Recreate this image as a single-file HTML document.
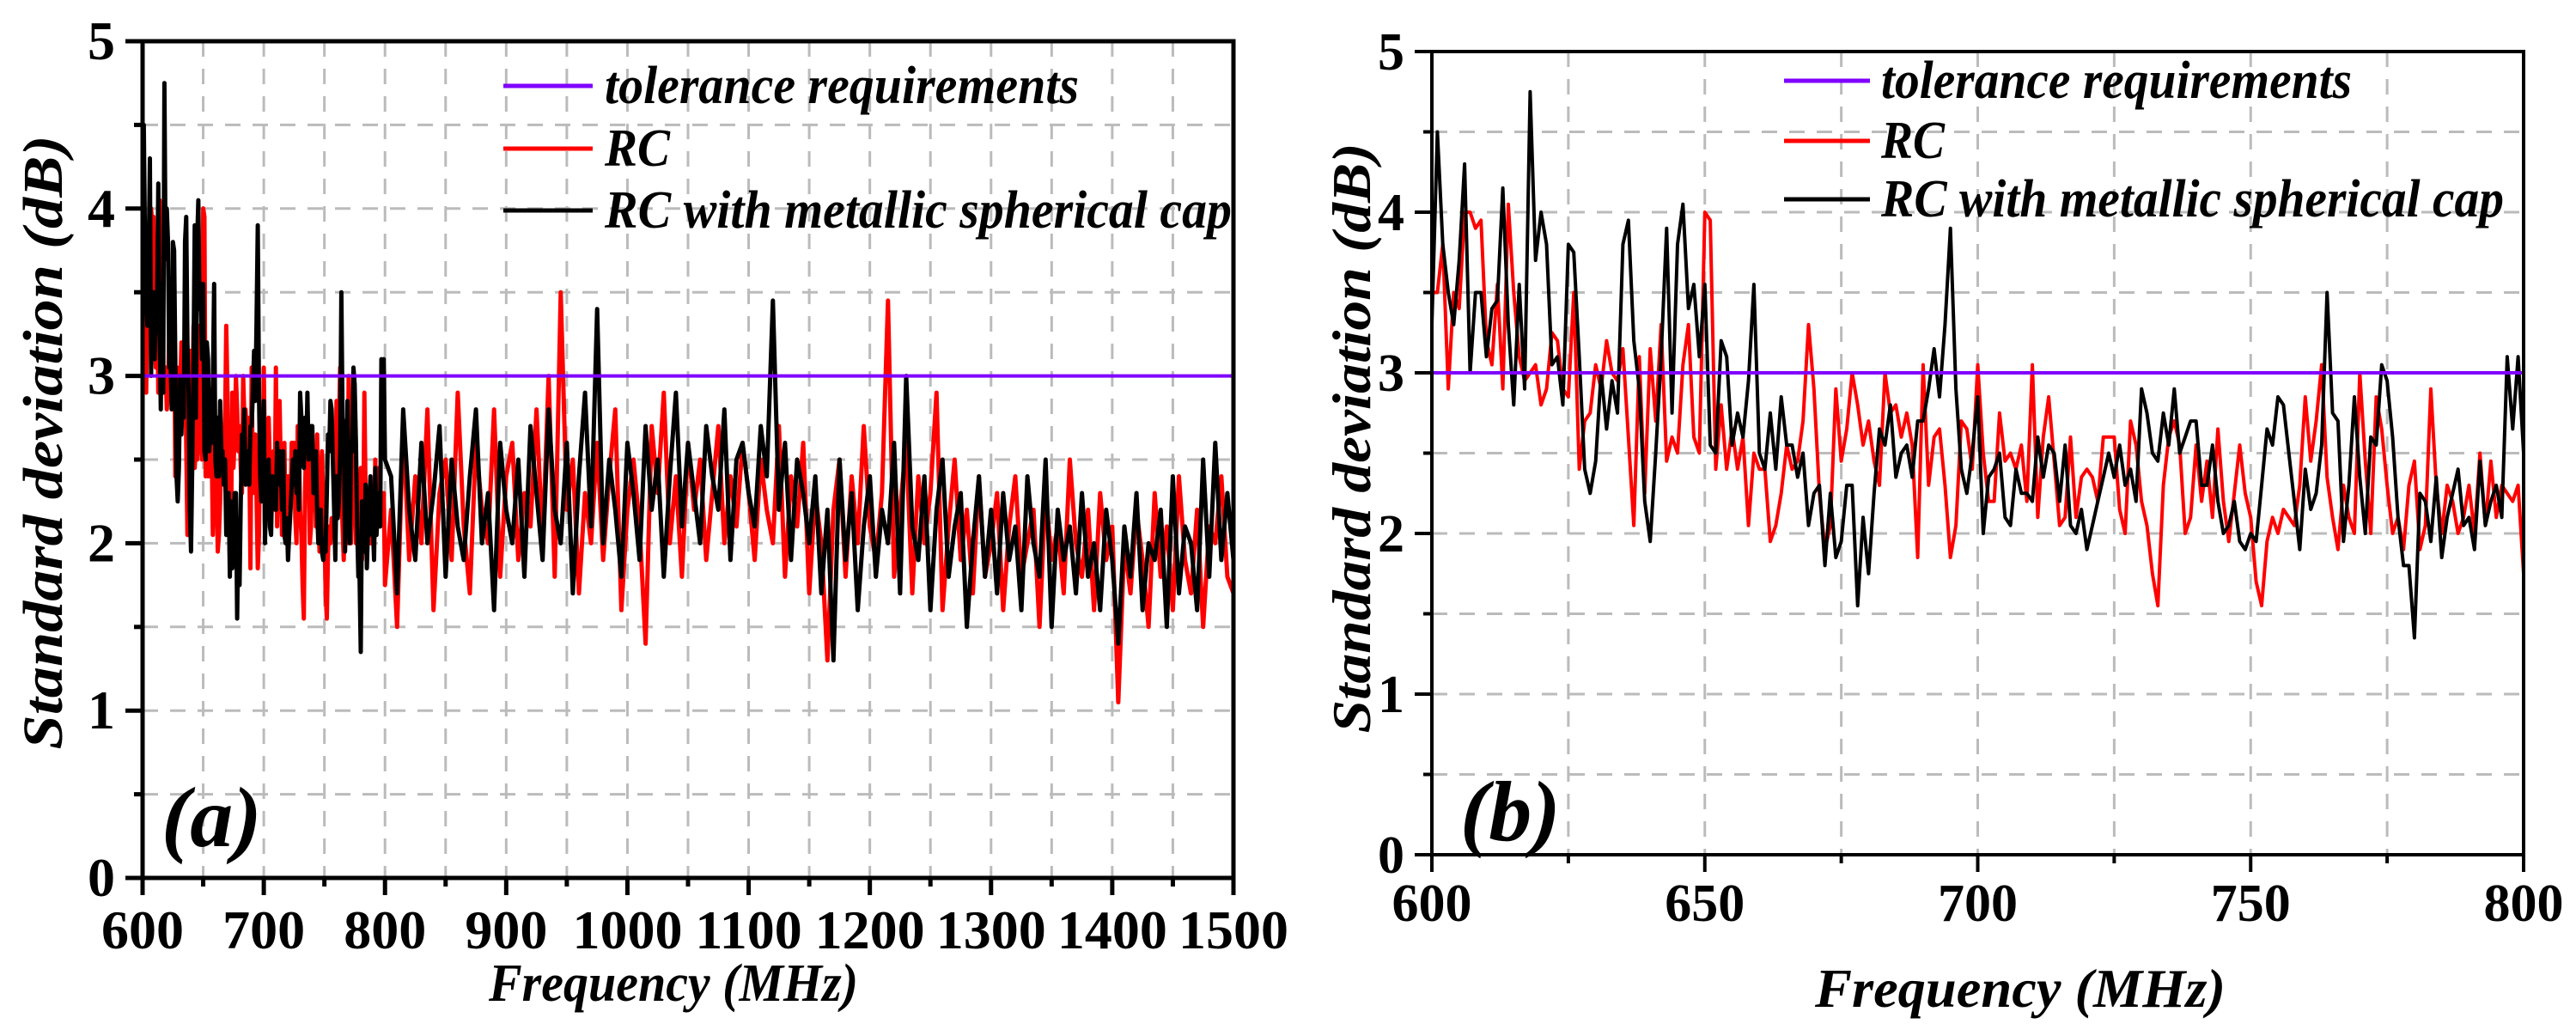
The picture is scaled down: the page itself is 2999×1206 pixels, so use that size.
<!DOCTYPE html>
<html><head><meta charset="utf-8"><style>
html,body{margin:0;padding:0;background:#fff;}
svg{display:block;font-family:"Liberation Serif",serif;}
</style></head><body>
<svg id="chart" width="2999" height="1206" viewBox="0 0 2999 1206" xmlns="http://www.w3.org/2000/svg"></svg>
<script>
// ---- data ----
const freqStartB = 600;
const blackB = [3.3,4.5,3.8,3.5,3.3,3.7,4.3,3.0,3.5,3.5,3.1,3.4,3.45,4.15,3.3,2.8,3.55,2.9,4.75,3.7,4.0,3.8,3.05,3.1,2.8,3.8,3.75,3.1,2.4,2.25,2.45,3.0,2.65,2.95,2.75,3.8,3.95,3.2,2.9,2.2,1.95,2.5,3.1,3.9,2.75,3.8,4.05,3.4,3.55,3.1,3.55,2.55,2.5,3.2,3.1,2.55,2.75,2.6,2.95,3.55,2.5,2.4,2.75,2.4,2.85,2.55,2.55,2.35,2.5,2.05,2.25,2.3,1.8,2.25,1.85,1.95,2.3,2.3,1.55,2.1,1.75,2.25,2.65,2.55,2.8,2.35,2.5,2.55,2.35,2.7,2.7,2.9,3.15,2.85,3.3,3.9,2.9,2.4,2.25,2.5,2.85,2.0,2.35,2.4,2.5,2.1,2.05,2.4,2.25,2.25,2.2,2.6,2.35,2.55,2.5,2.2,2.55,2.05,2.0,2.15,1.9,2.05,2.2,2.35,2.5,2.35,2.55,2.3,2.4,2.2,2.9,2.75,2.5,2.45,2.75,2.55,2.9,2.5,2.6,2.7,2.7,2.3,2.3,2.55,2.2,2.0,2.05,2.2,1.95,1.9,2.0,1.95,2.3,2.65,2.55,2.85,2.8,2.5,2.2,1.9,2.4,2.15,2.25,2.55,3.5,2.75,2.7,1.95,2.3,2.85,2.35,2.0,2.6,2.55,3.05,2.95,2.6,2.1,1.8,1.8,1.35,2.25,2.2,1.95,2.35,1.85,2.1,2.25,2.4,2.05,2.1,1.9,2.45,2.05,2.2,2.3,2.1,3.1,2.65,3.1,2.5];
const redB = [3.5,3.5,3.8,2.9,3.5,3.4,4.0,4.0,3.9,3.95,3.2,3.05,3.55,2.9,4.05,3.5,3.1,2.95,3.0,3.05,2.8,2.9,3.25,3.2,2.9,2.85,3.5,2.4,2.7,2.75,3.05,2.9,3.2,3.0,2.95,3.15,2.6,2.05,3.1,2.25,3.15,2.7,3.3,2.45,2.6,2.5,3.05,3.3,2.6,2.5,4.0,3.95,2.4,2.8,2.4,2.65,2.4,2.6,2.05,2.5,2.4,2.4,1.95,2.05,2.25,2.55,2.4,2.45,2.7,3.3,2.9,2.25,1.9,2.05,2.9,2.45,2.65,3.0,2.8,2.55,2.7,2.45,2.3,3.0,2.75,2.8,2.6,2.75,2.55,1.85,3.05,2.3,2.6,2.65,2.3,1.85,2.05,2.7,2.65,2.4,3.05,2.5,2.2,2.2,2.75,2.45,2.5,2.4,2.55,2.2,3.05,2.1,2.6,2.85,2.45,2.05,2.1,2.6,2.1,2.35,2.4,2.35,2.2,2.6,2.6,2.6,2.15,2.0,2.7,2.55,2.2,2.05,1.75,1.55,2.3,2.6,2.7,2.55,2.0,2.1,2.55,2.2,2.45,2.1,2.65,2.2,1.95,2.25,2.55,2.25,2.1,1.7,1.55,1.95,2.1,2.0,2.15,2.1,2.05,2.3,2.85,2.45,2.7,3.05,2.35,2.1,1.9,2.3,2.1,2.0,3.0,2.45,2.0,2.85,2.65,2.3,2.0,2.1,1.9,2.3,2.45,1.9,2.05,2.9,2.3,2.0,2.3,2.2,2.0,2.1,2.3,2.0,2.5,2.05,2.45,2.1,2.3,2.25,2.2,2.3,1.75];
const freqStartHigh = 805, stepHigh = 5;
const blackHigh = [2.4,1.7,2.8,2.2,1.9,2.6,2.0,2.3,2.7,1.8,2.5,2.1,1.9,2.4,2.8,2.0,2.3,1.6,2.6,2.2,
2.0,2.5,1.8,2.7,2.3,1.9,2.8,2.2,2.0,2.6,1.7,2.4,2.9,2.1,3.4,2.0,2.5,2.2,1.8,2.6,
2.3,1.9,2.7,2.2,2.5,1.8,2.4,2.9,2.1,2.6,2.3,2.0,2.7,2.4,2.2,2.8,1.9,2.5,2.6,2.3,
2.1,2.7,2.4,3.45,2.2,2.6,1.9,2.5,2.3,2.0,2.4,1.7,2.2,1.3,2.5,1.9,2.3,1.6,2.1,2.4,
1.8,2.2,2.0,2.6,1.7,3.0,2.1,1.9,2.4,1.6,2.2,2.5,1.8,2.1,2.3,1.5,2.0,2.4,1.8,2.2,
1.7,2.3,1.9,2.1,1.6,2.4,2.0,1.8,2.5,1.5,2.2,1.9,2.1,1.7,2.3,1.8,2.0,1.6,2.2,1.9,
1.4,2.1,1.8,2.3,1.6,2.0,1.9,2.2,1.5,2.4,1.7,2.1,2.0,1.6,2.5,1.8,2.6,1.9,2.3,1.9];
const redHigh = [2.2,1.5,2.7,1.9,2.4,2.0,2.8,1.6,2.3,2.5,1.9,2.9,2.1,1.7,2.6,2.2,2.0,2.8,1.8,2.4,
2.6,1.9,2.3,2.1,2.8,2.0,3.0,1.8,3.5,2.2,2.5,1.7,2.3,2.0,2.6,1.9,2.4,2.8,1.6,2.2,
2.5,2.1,1.4,2.7,2.3,2.9,2.0,2.4,1.8,2.6,2.2,2.5,1.9,2.3,2.7,2.0,2.4,2.1,2.6,2.3,
1.9,2.5,2.2,2.0,2.7,1.8,2.4,2.1,2.6,1.7,2.3,2.0,1.3,2.2,2.5,1.8,2.4,2.0,2.7,2.1,
1.9,2.3,3.45,1.8,2.2,2.6,1.7,2.4,2.0,2.3,2.9,1.6,2.1,2.5,1.9,2.2,1.7,2.4,1.8,2.0,
2.3,1.6,2.1,2.4,1.8,2.0,2.2,1.5,2.3,1.9,2.1,1.7,2.5,2.0,1.8,2.2,1.6,2.3,1.9,2.1,
1.05,2.0,1.7,2.2,1.9,1.5,2.3,1.8,2.1,1.6,2.4,1.9,1.7,2.2,1.5,2.1,2.0,2.4,1.8,1.7];
const tolerance = 3;
const yTicks = [0,1,2,3,4,5];
const xTicksA = [600,700,800,900,1000,1100,1200,1300,1400,1500];
const xTicksB = [600,650,700,750,800];
const legendLabels = ["tolerance requirements","RC","RC with metallic spherical cap"];

const NS="http://www.w3.org/2000/svg";
const svg=document.getElementById('chart');
function mk(tag,attrs,parent){const e=document.createElementNS(NS,tag);for(const k in attrs)e.setAttribute(k,attrs[k]);(parent||svg).appendChild(e);return e;}

function seriesFor(which){
  const b=[],r=[];
  blackB.forEach((v,i)=>b.push([freqStartB+i,v]));
  redB.forEach((v,i)=>r.push([freqStartB+i,v]));
  if(which==='a'){
    blackHigh.forEach((v,i)=>b.push([freqStartHigh+i*stepHigh,v]));
    redHigh.forEach((v,i)=>r.push([freqStartHigh+i*stepHigh,v]));
  }
  return {b,r};
}

function panel(p){
  const g=mk('g',{});
  
  
  const X=f=>p.x0+(f-p.fmin)/(p.fmax-p.fmin)*(p.x1-p.x0);
  const Y=v=>p.y0-(v/5)*(p.y0-p.y1);
  for(let f=p.fmin+p.minor; f<p.fmax-0.01; f+=p.minor){
    const l=mk('line',{x1:X(f),x2:X(f),y1:p.y1,y2:p.y0,stroke:'#bbb','stroke-width':3,'stroke-dasharray':'18,14'},g);
    
  }
  for(let v=0.5; v<5; v+=0.5){
    const l=mk('line',{x1:p.x0,x2:p.x1,y1:Y(v),y2:Y(v),stroke:'#bbb','stroke-width':3,'stroke-dasharray':'18,14'},g);
    
  }
  const s=seriesFor(p.id);
  const toPts=arr=>arr.filter(d=>d[0]<=p.fmax).map(d=>X(d[0]).toFixed(1)+','+Y(d[1]).toFixed(1)).join(' ');
  const red=mk('polyline',{points:toPts(s.r),fill:'none',stroke:'#ff0000','stroke-width':p.lw,'stroke-linejoin':'round'},g);
  
  const blk=mk('polyline',{points:toPts(s.b),fill:'none',stroke:'#000','stroke-width':p.lw,'stroke-linejoin':'round'},g);
  
  const tol=mk('line',{x1:p.x0,x2:p.x1,y1:Y(tolerance),y2:Y(tolerance),stroke:'#8000ff','stroke-width':4},g);
  
  const fr=mk('rect',{x:p.x0,y:p.y1,width:p.x1-p.x0,height:p.y0-p.y1,fill:'none',stroke:'#000','stroke-width':p.aw},g);
  
  for(let f=p.fmin; f<=p.fmax+0.01; f+=p.minor){
    const major=p.xt.includes(f);
    mk('line',{x1:X(f),x2:X(f),y1:p.y0,y2:p.y0+(major?20:10),stroke:'#000','stroke-width':p.aw},g);
  }
  p.xt.forEach(f=>{
    const t=mk('text',{x:X(f),y:p.xlabY,'text-anchor':'middle','font-size':p.fs,'font-weight':'bold'},g);
    t.textContent=f;
  });
  for(let v=0; v<=5; v+=0.5){
    const major=yTicks.includes(v);
    mk('line',{x1:p.x0-(major?20:10),x2:p.x0,y1:Y(v),y2:Y(v),stroke:'#000','stroke-width':p.aw},g);
  }
  yTicks.forEach(v=>{
    const t=mk('text',{x:p.x0-p.ylabGap,y:Y(v)+21,'text-anchor':'end','font-size':p.fs,'font-weight':'bold'},g);
    t.textContent=v;
  });
  const xt=mk('text',{x:p.xtitleX,y:p.xtitleY,'text-anchor':'middle','font-size':p.xtfs,'font-weight':'bold','font-style':'italic',textLength:p.xtLen,lengthAdjust:'spacingAndGlyphs'},g);
  xt.textContent='Frequency (MHz)';
  const yt=mk('text',{x:0,y:0,transform:`translate(${p.ytitleX},${p.ytitleY}) rotate(-90)`,'text-anchor':'middle','font-size':p.ytfs,'font-weight':'bold','font-style':'italic',textLength:p.ytLen,lengthAdjust:'spacingAndGlyphs'},g);
  yt.textContent='Standard deviation (dB)';
  const pl=mk('text',{x:p.plX,y:p.plY,'font-size':100,'font-weight':'bold','font-style':'italic'},g);
  pl.textContent='('+p.id+')';
  const colors=['#8000ff','#ff0000','#000'];
  legendLabels.forEach((lab,i)=>{
    const ly=p.legY[i];
    const le=mk('g',{},g);
    
    mk('line',{x1:p.legX0,x2:p.legX1,y1:ly,y2:ly,stroke:colors[i],'stroke-width':5},le);
    const t=mk('text',{x:p.legTX,y:ly+20,'font-size':p.legFs,'font-weight':'bold','font-style':'italic',textLength:p.legLen[i],lengthAdjust:'spacingAndGlyphs'},le);
    t.textContent=lab;
  });
}

panel({id:'a',fmin:600,fmax:1500,minor:50,x0:166,x1:1436,y0:1022,y1:48,xt:xTicksA,lw:5,aw:5,fs:64,
  xlabY:1104,ylabGap:32,xtitleX:784,xtitleY:1165,xtfs:62,xtLen:430,ytitleX:72,ytitleY:515,ytfs:66,ytLen:715,plX:188,plY:985,
  legY:[100,173,245],legX0:586,legX1:690,legTX:704,legFs:62,legLen:[552,76,730]});
panel({id:'b',fmin:600,fmax:800,minor:25,x0:1667,x1:2938,y0:995,y1:60,xt:xTicksB,lw:4,aw:4,fs:62,
  xlabY:1072,ylabGap:32,xtitleX:2352,xtitleY:1172,xtfs:64,xtLen:478,ytitleX:1595,ytitleY:510,ytfs:64,ytLen:687,plX:1700,plY:978,
  legY:[94,164,232],legX0:2077,legX1:2177,legTX:2190,legFs:62,legLen:[548,74,725]});
</script>
</body></html>
